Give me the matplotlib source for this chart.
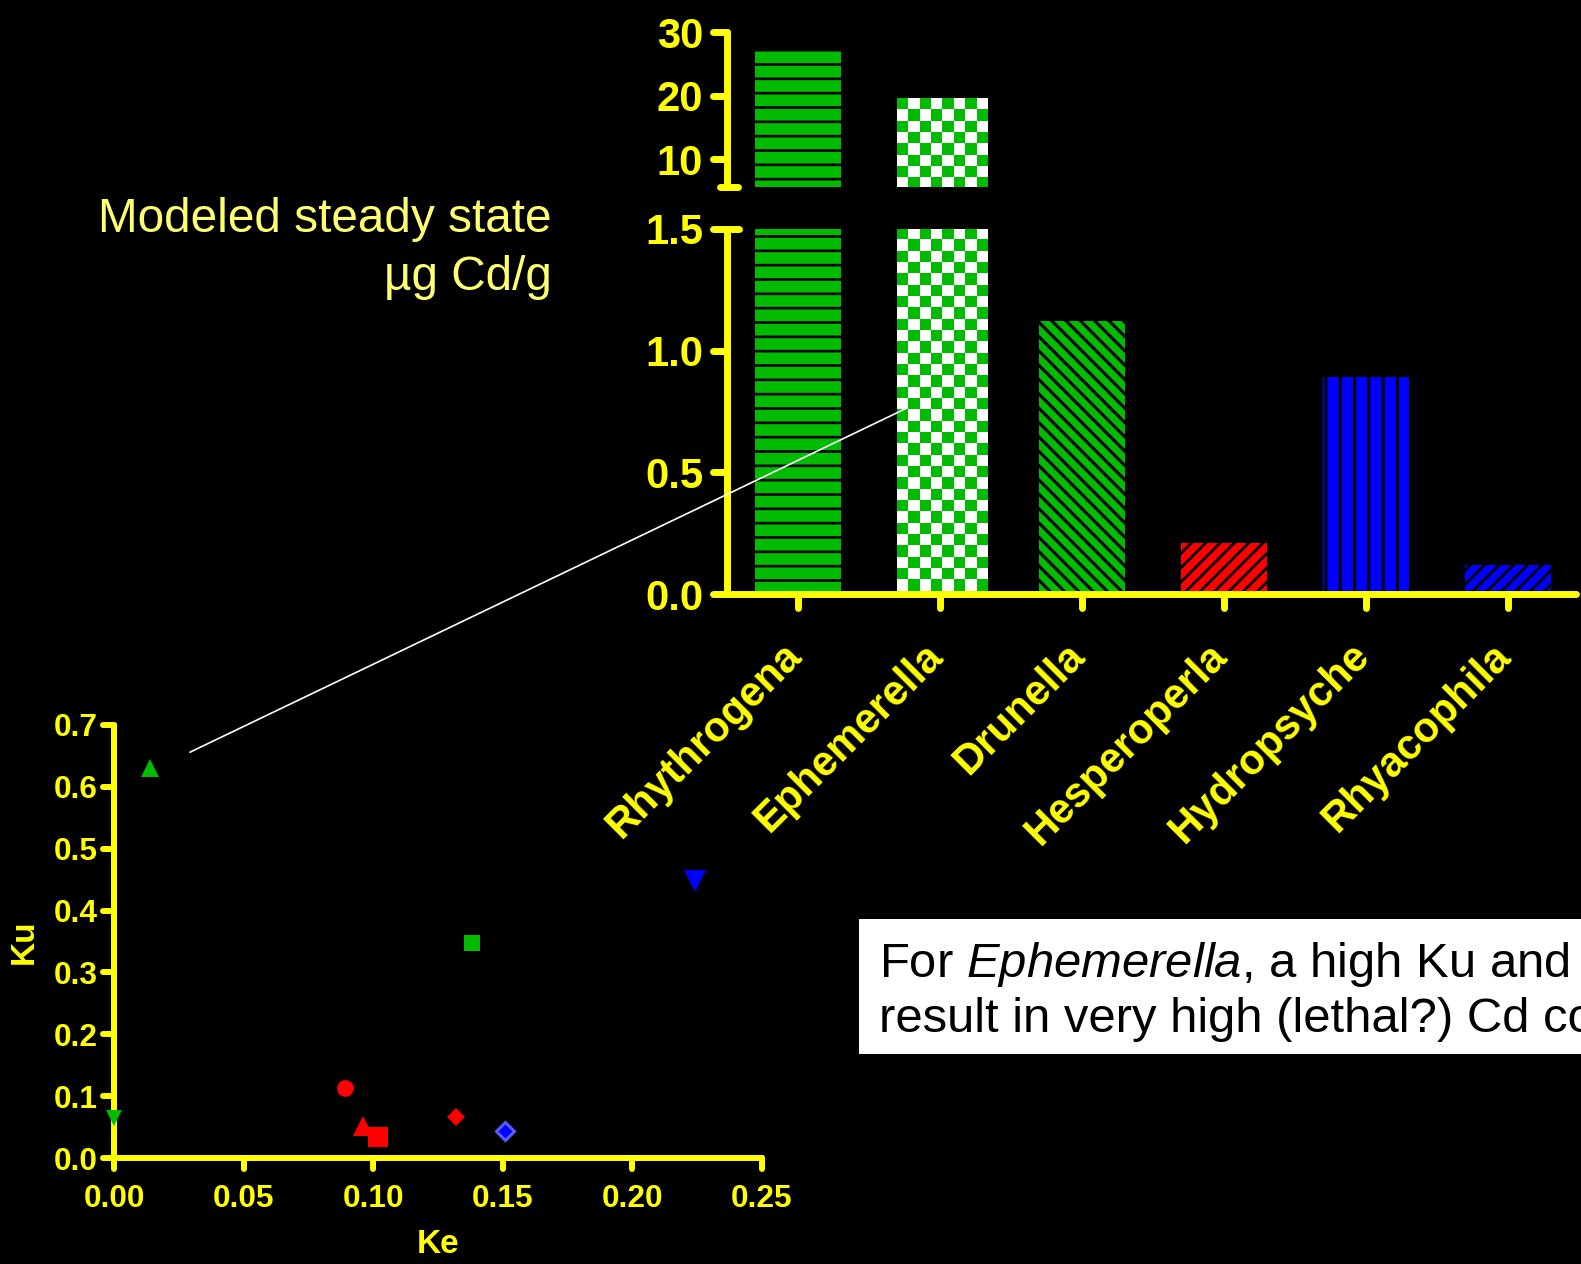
import numpy as np
import matplotlib.pyplot as plt
from matplotlib.colors import ListedColormap
from matplotlib.markers import MarkerStyle
from matplotlib.patches import ConnectionPatch, Rectangle
from matplotlib.transforms import ScaledTranslation

# bar chart: modeled steady state Cd (ug Cd/g)
taxa = ['Rhythrogena', 'Ephemerella', 'Drunella', 'Hesperoperla', 'Hydropsyche', 'Rhyacophila']
cd_ss = [27.2, 19.6, 1.12, 0.21, 0.89, 0.12]
low_ticks = [0.0, 0.5, 1.0, 1.5]
high_ticks = [10, 20, 30]

# scatter: uptake (Ku) vs elimination (Ke)
ke = [0.014, 0.0, 0.089, 0.096, 0.102, 0.132, 0.151, 0.138, 0.224]
ku = [0.630, 0.065, 0.113, 0.051, 0.034, 0.067, 0.044, 0.348, 0.447]
ke_ticks = [0.00, 0.05, 0.10, 0.15, 0.20, 0.25]
ku_ticks = [0.0, 0.1, 0.2, 0.3, 0.4, 0.5, 0.6, 0.7]

YEL = '#ffff00'
GREEN = '#00bb00'
RED = '#ff0000'
BLUE = '#0000ff'

bar_fc = [GREEN, 'white', GREEN, RED, BLUE, BLUE]
bar_hatch = ['-', None, '\\\\', '//', '|', '//']
hatch_lw = [2.2, 1.0, 2.6, 2.3, 2.5, 2.3]

sc_marker = ['^', 'v', 'o', '^', 's', 'D', 'D', 's', 'v']
sc_color = [GREEN, GREEN, RED, RED, RED, RED, BLUE, GREEN, BLUE]
sc_edge = [GREEN, GREEN, RED, RED, RED, RED, '#5a5aff', GREEN, BLUE]
sc_size = [15, 14, 14, 16, 16, 11, 11, 14, 18]

DPI = 86
W, H = 1581, 1264
plt.rcParams['font.family'] = ['Liberation Sans', 'DejaVu Sans']
plt.rcParams['mathtext.fontset'] = 'custom'
plt.rcParams['mathtext.rm'] = 'Liberation Sans'
plt.rcParams['mathtext.it'] = 'Liberation Sans:italic'
plt.rcParams['hatch.linewidth'] = 2.4

fig = plt.figure(figsize=(W / DPI, H / DPI), dpi=DPI, facecolor='black')


def px_axes(l, t, r, b):
    return fig.add_axes([l / W, 1 - b / H, (r - l) / W, (b - t) / H])


def style(ax, lw, ticklen):
    ax.set_facecolor('none')
    for s in ['top', 'right']:
        ax.spines[s].set_visible(False)
    for s in ['left', 'bottom']:
        ax.spines[s].set_color(YEL)
        ax.spines[s].set_linewidth(lw)
        ax.spines[s].set_capstyle('round')
    ax.tick_params(colors=YEL, width=lw, length=ticklen, direction='out')


def round_ticks(axis):
    for t in axis.get_major_ticks():
        for ln in (t.tick1line, t.tick2line):
            ln.set_marker(MarkerStyle(ln.get_marker(), capstyle='round'))


ax_hi = px_axes(727, 32, 1576, 187)
ax_lo = px_axes(727, 229, 1576, 594)
ax_sc = px_axes(114, 725, 762, 1158)

# ---- bars (broken axis) ----
x = np.arange(len(taxa))
checker_cmap = ListedColormap(['white', GREEN])
for ax, ylim in [(ax_hi, (5.6, 30)), (ax_lo, (0, 1.5))]:
    style(ax, 5.8, 12)
    bars = ax.bar(x, cd_ss, width=0.61, color=bar_fc, edgecolor='black', linewidth=0)
    for b, h, hl in zip(bars, bar_hatch, hatch_lw):
        if h:
            b.set_hatch(h)
            if hasattr(b, 'set_hatch_linewidth'):
                b.set_hatch_linewidth(hl)
    ax.set_xlim(-0.5, 5.48)
    ax.set_ylim(*ylim)
    # checkerboard fill for Ephemerella
    b = bars[1]
    x0, x1 = b.get_x(), b.get_x() + b.get_width()
    y0, y1 = ylim[0], min(ylim[1], b.get_height())
    (px0, py0), (px1, py1) = ax.transData.transform([(x0, y0), (x1, y1)])
    cell = 11.3
    nx = int(np.ceil((px1 - px0) / cell))
    ny = int(np.ceil((py1 - py0) / cell))
    ii, jj = np.indices((ny, nx))
    ex1 = x0 + nx * cell * (x1 - x0) / (px1 - px0)
    ey0 = y1 - ny * cell * (y1 - y0) / (py1 - py0)
    ax.imshow((ii + jj + 1) % 2, cmap=checker_cmap, extent=(x0, ex1, ey0, y1),
              origin='upper', interpolation='nearest', aspect='auto',
              clip_path=b, zorder=2)
    ax.set_xlim(-0.5, 5.48)
    ax.set_ylim(*ylim)

ax_hi.spines['bottom'].set_visible(False)
ax_hi.set_xticks([])
ax_hi.set_yticks(high_ticks)
ax_hi.set_yticklabels([str(v) for v in high_ticks], fontsize=35, fontweight='bold')
ax_hi.tick_params(axis='y', pad=8)
ax_hi.plot([-7 / 849, 11 / 849], [0, 0], transform=ax_hi.transAxes, clip_on=False,
           color=YEL, lw=5.8, solid_capstyle='round')

ax_lo.set_yticks(low_ticks)
ax_lo.set_yticklabels(['%.1f' % v for v in low_ticks], fontsize=35, fontweight='bold')
ax_lo.tick_params(axis='y', pad=8)
ax_lo.set_xticks(x)
ax_lo.set_xticklabels(taxa, fontsize=35, fontweight='bold', rotation=45,
                      ha='right', rotation_mode='anchor')
ax_lo.tick_params(axis='x', pad=23)
shift = ScaledTranslation(-17 / DPI, 0, fig.dpi_scale_trans)
for lab in ax_lo.get_xticklabels():
    lab.set_transform(lab.get_transform() + shift)
ax_lo.plot([0, 12 / 849], [1, 1], transform=ax_lo.transAxes, clip_on=False,
           color=YEL, lw=5.8, solid_capstyle='round')

# ---- scatter ----
style(ax_sc, 5, 9)
for xi, yi, m, c, e, s in zip(ke, ku, sc_marker, sc_color, sc_edge, sc_size):
    ax_sc.plot(xi, yi, m, color=c, mfc=c, mec=e, ms=s, mew=2.5 if e != c else 0,
               clip_on=False, zorder=3)
ax_sc.set_xlim(0, 0.25)
ax_sc.set_ylim(0, 0.7)
ax_sc.set_xticks(ke_ticks)
ax_sc.set_xticklabels(['%.2f' % v for v in ke_ticks], fontsize=26.5, fontweight='bold')
ax_sc.set_yticks(ku_ticks)
ax_sc.set_yticklabels(['%.1f' % v for v in ku_ticks], fontsize=26.5, fontweight='bold')
ax_sc.tick_params(axis='x', pad=13)
ax_sc.tick_params(axis='y', pad=5)
ax_sc.set_xlabel('Ke', fontsize=28, fontweight='bold', color=YEL, labelpad=12)
ax_sc.set_ylabel('Ku', fontsize=28, fontweight='bold', color=YEL, labelpad=11)

for ax in (ax_hi, ax_lo, ax_sc):
    round_ticks(ax.xaxis)
    round_ticks(ax.yaxis)

# pointer from the Ephemerella point to its bar
con = ConnectionPatch(xyA=(0.0293, 0.656), coordsA=ax_sc.transData,
                      xyB=(0.77, 0.765), coordsB=ax_lo.transData,
                      color='white', lw=1.4, zorder=10)
fig.add_artist(con)

# titles / notes
fig.text(552 / W, 1 - 232 / H, 'Modeled steady state', ha='right', va='baseline',
         fontsize=40, color='#ffff70')
fig.text(552 / W, 1 - 290 / H, '\u00b5g Cd/g', ha='right', va='baseline',
         fontsize=40, color='#ffff70')

fig.add_artist(Rectangle((859 / W, 1 - 1054 / H), 1.0, (1054 - 919) / H,
                         transform=fig.transFigure, facecolor='white',
                         edgecolor='none'))
fig.text(879 / W, 1 - 977 / H, r'For $\it{Ephemerella}$, a high Ku and low Ke',
         ha='left', va='baseline', fontsize=41, color='black')
fig.text(879 / W, 1 - 1032 / H, 'result in very high (lethal?) Cd concentrations',
         ha='left', va='baseline', fontsize=41, color='black')

fig.savefig('out.png', dpi=DPI, facecolor='black')
